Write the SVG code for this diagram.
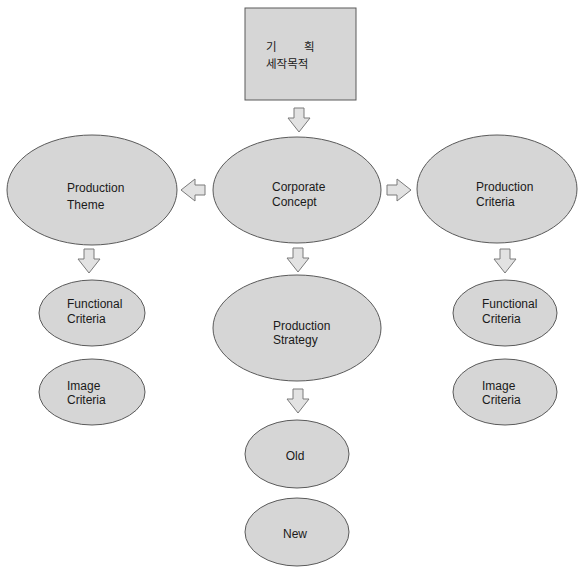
<svg xmlns="http://www.w3.org/2000/svg" width="579" height="567" viewBox="0 0 579 567">
<style>
.n{fill:#d6d6d6;stroke:#5a5a5a;stroke-width:1}
.t{font-family:"Liberation Sans",Arial,sans-serif;font-size:12px;fill:#1a1a1a}
.k{font-family:"Noto Sans CJK KR","Liberation Sans",sans-serif;font-size:11.5px;fill:#1a1a1a}
.a{fill:#e2e2e2;stroke:#7a7a7a;stroke-width:1}
</style>
<defs>
<path id="arr" d="M-5,-12 H5 V-2 H11 L0,12 L-11,-2 H-5 Z"/>
</defs>
<rect width="579" height="567" fill="#fff"/>
<g id="connectors">
<use href="#arr" class="a" transform="translate(299,120)"/>
<use href="#arr" class="a" transform="translate(193,190) rotate(90)"/>
<use href="#arr" class="a" transform="translate(399,190) rotate(-90)"/>
<use href="#arr" class="a" transform="translate(89,261)"/>
<use href="#arr" class="a" transform="translate(298,260)"/>
<use href="#arr" class="a" transform="translate(298,401)"/>
<use href="#arr" class="a" transform="translate(505,261)"/>
</g>
<g id="plan">
<rect class="n" x="245" y="8" width="111" height="92"/>
<text class="k" x="266" y="51">기</text>
<text class="k" x="304" y="51">획</text>
<text class="k" x="266" y="68">세작목적</text>
</g>
<g id="concept">
<ellipse class="n" cx="297" cy="190" rx="84" ry="53"/>
<text class="t" x="272" y="191">Corporate</text>
<text class="t" x="272" y="206">Concept</text>
</g>
<g id="theme">
<ellipse class="n" cx="92" cy="190" rx="85" ry="55"/>
<text class="t" x="67" y="192">Production</text>
<text class="t" x="67" y="209">Theme</text>
</g>
<g id="criteria">
<ellipse class="n" cx="497" cy="189" rx="80" ry="54"/>
<text class="t" x="476" y="191">Production</text>
<text class="t" x="476" y="206">Criteria</text>
</g>
<g id="func-left">
<ellipse class="n" cx="92" cy="313" rx="53" ry="33"/>
<text class="t" x="67" y="308">Functional</text>
<text class="t" x="67" y="323">Criteria</text>
</g>
<g id="image-left">
<ellipse class="n" cx="92" cy="392" rx="53" ry="33"/>
<text class="t" x="67" y="390">Image</text>
<text class="t" x="67" y="404">Criteria</text>
</g>
<g id="strategy">
<ellipse class="n" cx="297" cy="328" rx="84" ry="53"/>
<text class="t" x="273" y="330">Production</text>
<text class="t" x="273" y="344">Strategy</text>
</g>
<g id="old">
<ellipse class="n" cx="297" cy="454" rx="52" ry="34"/>
<text class="t" x="295" y="460" text-anchor="middle">Old</text>
</g>
<g id="new">
<ellipse class="n" cx="297" cy="532" rx="52" ry="34"/>
<text class="t" x="295" y="538" text-anchor="middle">New</text>
</g>
<g id="func-right">
<ellipse class="n" cx="505" cy="313" rx="52" ry="33"/>
<text class="t" x="482" y="308">Functional</text>
<text class="t" x="482" y="323">Criteria</text>
</g>
<g id="image-right">
<ellipse class="n" cx="505" cy="392" rx="52" ry="33"/>
<text class="t" x="482" y="390">Image</text>
<text class="t" x="482" y="404">Criteria</text>
</g>
</svg>
